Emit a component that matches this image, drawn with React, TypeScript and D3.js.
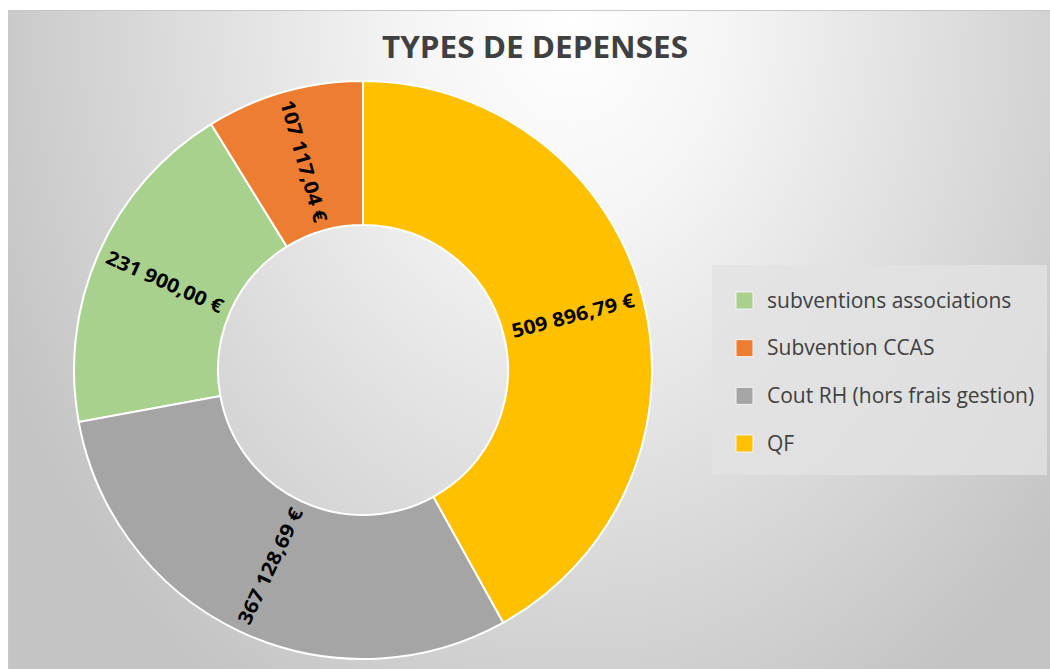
import React, { useEffect, useRef } from 'react';
import * as d3 from 'd3';

const categories = ['subventions associations', 'Subvention CCAS', 'Cout RH (hors frais gestion)', 'QF'];
const amounts = [231900.0, 107117.04, 367128.69, 509896.79];
const amountLabels = ['231 900,00 €', '107 117,04 €', '367 128,69 €', '509 896,79 €'];
const colors = ['#A9D18E', '#ED7D31', '#A5A5A5', '#FFC000'];

const W = 1050;
const H = 669;

const App = () => {
  const ref = useRef<SVGSVGElement>(null);

  useEffect(() => {
    const svg = d3.select(ref.current);
    svg.selectAll('*').remove();

    const defs = svg.append('defs');
    const grad = defs.append('radialGradient')
      .attr('id', 'bg')
      .attr('gradientUnits', 'userSpaceOnUse')
      .attr('cx', 0).attr('cy', 0).attr('r', 1)
      .attr('gradientTransform', 'translate(570,20) scale(620,800)');
    grad.append('stop').attr('offset', 0).attr('stop-color', '#ffffff');
    grad.append('stop').attr('offset', 0.25).attr('stop-color', '#f5f5f5');
    grad.append('stop').attr('offset', 1).attr('stop-color', '#c4c4c4');

    // chart area
    svg.append('rect')
      .attr('x', 8.5).attr('y', 10.5)
      .attr('width', W).attr('height', H)
      .attr('fill', 'url(#bg)')
      .attr('stroke', '#c8c8c8');

    svg.append('text')
      .attr('x', 535).attr('y', 58)
      .attr('text-anchor', 'middle')
      .attr('font-family', 'Open Sans, sans-serif')
      .attr('font-weight', 700)
      .attr('font-size', 30)
      .attr('fill', '#404040')
      .attr('textLength', 306)
      .attr('lengthAdjust', 'spacingAndGlyphs')
      .text('TYPES DE DEPENSES');

    const cx = 363, cy = 370;
    const outerR = 289, innerR = 145;

    const data = categories.map((c, i) => ({ name: c, value: amounts[i], label: amountLabels[i], color: colors[i] }));
    const pie = d3.pie<any>().value(d => d.value).sort((a, b) => b.value - a.value);
    const arc = d3.arc<any>().innerRadius(innerR).outerRadius(outerR);

    const g = svg.append('g').attr('transform', `translate(${cx},${cy})`);
    const arcs = pie(data);

    g.selectAll('path')
      .data(arcs)
      .enter()
      .append('path')
      .attr('d', arc)
      .attr('fill', d => d.data.color)
      .attr('stroke', '#ffffff')
      .attr('stroke-width', 2);

    g.selectAll('text')
      .data(arcs)
      .enter()
      .append('text')
      .attr('transform', d => {
        const [x, y] = arc.centroid(d);
        const mid = (d.startAngle + d.endAngle) / 2;
        // radial direction, kept readable
        let rot = Math.atan2(-Math.cos(mid), Math.sin(mid)) * 180 / Math.PI;
        if (rot > 90) rot -= 180;
        if (rot < -90) rot += 180;
        return `translate(${x},${y}) rotate(${rot})`;
      })
      .attr('text-anchor', 'middle')
      .attr('dy', '0.35em')
      .attr('font-family', 'Open Sans, sans-serif')
      .attr('font-weight', 700)
      .attr('font-size', 19.5)
      .attr('fill', '#000000')
      .attr('textLength', 126)
      .attr('lengthAdjust', 'spacingAndGlyphs')
      .text(d => d.data.label);

    // legend
    const lg = svg.append('g');
    lg.append('rect')
      .attr('x', 712).attr('y', 265)
      .attr('width', 335).attr('height', 210)
      .attr('fill', '#e2e2e2')
      .attr('opacity', 0.8);

    const rowY = d3.scalePoint<string>().domain(categories).range([300, 443]);

    const items = lg.selectAll('g.item')
      .data(data)
      .enter()
      .append('g')
      .attr('class', 'item')
      .attr('transform', d => `translate(736,${rowY(d.name)})`);

    items.append('rect')
      .attr('x', 0).attr('y', -8)
      .attr('width', 17).attr('height', 17)
      .attr('fill', d => d.color)
      .attr('stroke', '#f4f4f4')
      .attr('stroke-width', 1);

    items.append('text')
      .attr('x', 31)
      .attr('y', 7.5)
      .attr('font-family', 'Open Sans, sans-serif')
      .attr('font-size', 21)
      .attr('fill', '#404040')
      .text(d => d.name);
  }, []);

  return (
    <svg
      ref={ref}
      width={W}
      height={H}
      style={{ position: 'absolute', left: 0, top: 0, display: 'block' }}
    />
  );
};

export default App;
